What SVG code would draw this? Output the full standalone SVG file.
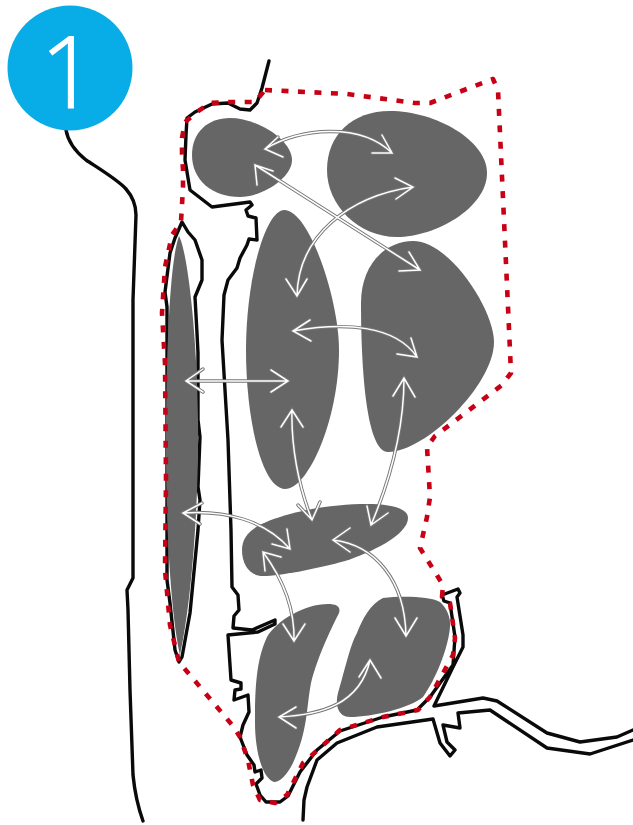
<svg xmlns="http://www.w3.org/2000/svg" width="633" height="825" viewBox="0 0 633 825">
<style>
.blob{fill:#666}
.coast{fill:none;stroke:#0a0a0a;stroke-width:3.4;stroke-linejoin:round;stroke-linecap:round}
.bound{fill:none;stroke:#c80016;stroke-width:4.6;stroke-dasharray:7 9.5;stroke-linejoin:round}
.a0{fill:none;stroke:#777;stroke-width:3.4;stroke-linecap:round;stroke-linejoin:miter}
.a1{fill:none;stroke:#fff;stroke-width:1.5;stroke-linecap:round;stroke-linejoin:miter}
</style>
<defs>
<g id="arrows-shape">
<path id="p1" d="M265 149C300 128 360 122 392 153M278 137L265 149L283 157M382 135L392 153L372 153"/>
<path id="p2" d="M255 165L420 270M273 171L255 165L257 185M409 252L420 270L399 271"/>
<path id="p3" d="M413 187C350 196 298 235 297 296M395 178L413 187L396 199M286 279L297 296L307 279"/>
<path id="p4" d="M293 331C345 322 395 325 417 357M310 320L293 331L311 341M411 338L417 357L397 354"/>
<path id="p5" d="M186 381L288 381M203 369L186 381L203 392M271 370L288 381L271 392"/>
<path id="p6" d="M292 410C291 445 298 485 312 520M281 427L292 410L303 427M298 505L312 520L320 502"/>
<path id="p7" d="M404 378C404 430 390 480 371 525M393 396L404 378L415 397M367 506L371 525L388 513"/>
<path id="p8" d="M183 513C225 510 265 520 290 549M202 503L183 513L200 524M287 529L290 549L272 544"/>
<path id="p9" d="M333 540C375 545 405 580 406 636M350 528L333 540L350 552M395 618L406 636L417 618"/>
<path id="p10" d="M263 552C280 575 295 605 294 641M281 557L263 552L265 571M283 624L294 641L305 624"/>
<path id="p11" d="M279 717C320 715 360 705 370 660M296 707L279 717L296 728M359 677L370 660L381 678"/>
</g>
</defs>
<g id="background-coast">
<path class="coast" d="M66 130C68 142 76 152 86 160C98 168 118 180 126 189C133 197 136 205 136 215L133 300L133 578L127 590L128 610L130 690L133 775C135 795 138 807 143 821"/>
<path class="coast" d="M269 61L262 88L257 103L250 110L240 109L228 103L212 104L195 112L187 118L186 135L185 160L190 190L212 207L250 202L252 205L246 210L248 216L256 218L257 240L249 239L247 245L240 258L237 268L228 280L224 295L222 340L228 440L231 530L232 587L238 595L239 610L234 616L233 628L252 630L275 620L275 624L258 632L228 635L231 680L241 683L241 689L235 690L234 700L248 695L249 712L243 725L240 737L247 755L254 765L255 772L261 770L262 778L256 784L260 795L266 802L280 802L288 796L300 772L317 750L340 731L383 717L417 710L430 697L453 665L455 637L450 603L444 601L442 595L458 589L460 593L457 597L463 635L463 647L453 667L434 706L483 698L497 701L547 733L580 742L617 737L633 730"/>
<path class="coast" d="M303 820L304 800L307 787L317 760L337 743L377 727L433 719L440 743L450 756L455 750L447 742L443 725L460 728L458 713L490 710L547 748L590 754L633 740"/>
<path class="coast" d="M182 222L188 232L195 240L202 260L202 280L195 297L197 333L198 353L198 420L200 437L198 487L200 500L198 530L190 613L182 657L179 662L175 650L170 603L167 580L167 307L165 292L170 253L175 238L182 222Z"/>
</g>
<g id="zone-8"><path class="blob" d="M179 236C187 250 197 330 198 420C199 500 192 600 180 655C172 620 166 540 166 450C166 350 170 260 179 236Z"/></g>
<g id="zone-1"><path class="blob" d="M230 118C258 118 292 140 292 160C292 178 262 197 240 197C212 197 192 180 192 155C192 132 208 118 230 118Z"/></g>
<g id="zone-2"><path class="blob" d="M390 111C435 111 487 140 487 173C487 208 435 237 397 237C358 237 327 205 327 170C327 135 352 111 390 111Z"/></g>
<g id="zone-3"><path class="blob" d="M285 210C310 212 339 300 339 350C339 420 308 489 285 489C262 489 246 420 246 350C246 280 265 209 285 210Z"/></g>
<g id="zone-4"><path class="blob" d="M413 241C450 241 494 310 494 342C494 385 425 452 388 452C365 452 361 360 361 303C361 265 385 241 413 241Z"/></g>
<g id="zone-5"><path class="blob" d="M367 504C390 504 408 508 408 518C408 535 370 553 345 561C320 568 280 576 263 576C250 576 242 565 242 550C242 530 262 522 290 514C315 507 345 504 367 504Z"/></g>
<g id="zone-6"><path class="blob" d="M328 604C337 604 341 607 339 613C333 625 318 655 311 683C306 710 308 730 293 763C287 775 280 782 274 782C262 778 255 750 255 723C255 690 256 660 267 637C277 620 305 604 328 604Z"/></g>
<g id="zone-7"><path class="blob" d="M383 598C400 596 430 596 440 602C447 608 451 618 450 627C448 650 435 680 423 697C410 708 372 717 350 717C338 717 335 705 338 693C345 670 350 645 357 633C362 620 370 604 383 598Z"/></g>
<g id="boundary"><path class="bound" d="M265 90L347 94L415 103L430 103L493 79L498 90L508 307L511 373L502 385L435 436L427 447L430 497L427 517L420 548L443 585L442 597L450 603L455 638L453 655L430 697L418 710L383 717L340 730L303 763L287 795L275 803L260 800L253 785L248 760L240 737L233 726L179 662L170 625L165 570L166 480L165 363L162 313L165 267L172 235L181 222L183 187L183 170L182 153L182 138L185 122L197 112L210 103L227 102L255 102L265 90"/></g>
<g id="connectors">
<use href="#arrows-shape" class="a0"/>
<use href="#arrows-shape" class="a1"/>
</g>
<g id="badge">
<circle cx="70" cy="68" r="62.5" fill="#08ace6"/>
<text x="40" y="108" font-family="'Open Sans',sans-serif" font-weight="300" font-size="100" fill="#fff" stroke="#fff" stroke-width="1.2">1</text>
</g>
</svg>
